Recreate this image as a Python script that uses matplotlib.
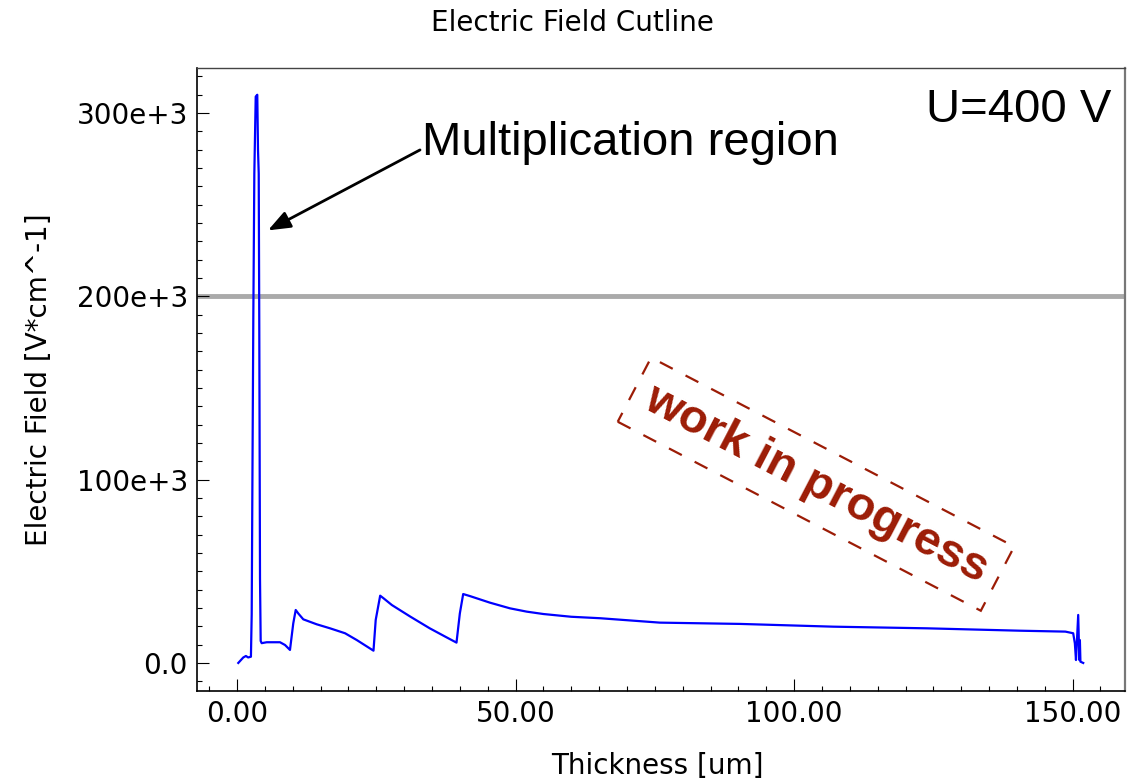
import matplotlib
matplotlib.use('Agg')
import matplotlib.pyplot as plt
from matplotlib.ticker import MultipleLocator, FuncFormatter

# cutline data (thickness in um, field in kV/cm)
thickness = [0.23, 1.13, 1.6, 2.0, 2.5, 2.64, 2.75, 2.93, 3.11, 3.36, 3.64, 3.77, 3.9, 4.0,
             4.13, 4.25, 4.43, 5.33, 7.72, 8.62, 9.51, 10.1, 10.54, 11.0, 11.9, 14.3, 16.7,
             19.4, 21.5, 24.5, 24.9, 25.7, 26.3, 27.8, 31.1, 34.6, 37.6, 39.4, 40.0, 40.6,
             41.8, 45.4, 49.0, 52.0, 55.0, 60.0, 65.2, 75.9, 90.3, 107.0, 123.8, 140.5,
             148.7, 150.1, 150.4, 150.6, 151.0, 151.2, 151.3, 151.4, 151.9]
field_kv = [0.0, 3.0, 3.8, 3.0, 3.4, 26.6, 90.0, 189.0, 267.0, 309.0, 310.0, 280.0, 267.0, 183.0,
            46.0, 12.0, 10.8, 11.3, 11.3, 9.8, 7.1, 21.6, 28.9, 27.0, 23.8, 21.1, 18.9,
            16.2, 12.5, 6.7, 23.5, 36.7, 35.3, 31.6, 25.3, 18.9, 14.0, 11.1, 27.0, 37.6,
            36.5, 32.9, 29.8, 28.0, 26.7, 25.2, 24.4, 22.0, 21.3, 19.8, 18.9, 17.6,
            17.1, 16.2, 10.7, 1.6, 26.2, 1.6, 12.5, 0.7, 0.0]
field = [v * 1e3 for v in field_kv]

threshold = 200e3
peak_tip = (5.56, 236e3)
peak_text = (33.2, 277e3)

fig = plt.figure(figsize=(11.4, 7.82), dpi=100)
ax = fig.add_axes([197/1140, 1 - 691/782, 928/1140, 623/782])

ax.axhline(threshold, color='#aaaaaa', lw=3.5, zorder=1)
ax.plot(thickness, field, color='#0000ff', lw=1.6, zorder=2)

ax.set_xlim(-7.18, 159.4)
ax.set_ylim(-15.3e3, 324.6e3)

ax.xaxis.set_major_locator(MultipleLocator(50))
ax.xaxis.set_minor_locator(MultipleLocator(5))
ax.yaxis.set_major_locator(MultipleLocator(100e3))
ax.yaxis.set_minor_locator(MultipleLocator(10e3))
ax.xaxis.set_major_formatter(FuncFormatter(lambda v, p: f'{v:.2f}'))
ax.yaxis.set_major_formatter(FuncFormatter(lambda v, p: '0.0' if v == 0 else f'{v/1e3:.0f}e+3'))
ax.tick_params(which='both', direction='in', top=False, right=False, labelsize=20, width=0.8)
ax.tick_params(which='major', length=8.4, pad=6.5)
ax.tick_params(which='minor', length=3.8)

ax.spines['left'].set_linewidth(1.2)
ax.spines['bottom'].set_linewidth(1.2)
ax.spines['top'].set_linewidth(1.0)
ax.spines['top'].set_color('#444444')
ax.spines['right'].set_linewidth(1.6)
ax.spines['right'].set_color('#777777')

ax.set_xlabel('Thickness [um]', fontsize=20, va='top')
ax.xaxis.set_label_coords(0.496, -0.098)
ax.set_ylabel('Electric Field [V*cm^-1]', fontsize=20)
ax.yaxis.set_label_coords(-0.155, 0.5)
fig.suptitle('Electric Field Cutline', fontsize=20, x=0.502, y=1 - 23/782, va='center')

ax.annotate('', xy=peak_tip, xytext=(32.85, 279.9e3),
            arrowprops=dict(arrowstyle='-|>,head_length=0.9,head_width=0.35',
                            mutation_scale=15, color='black', lw=2,
                            shrinkA=0, shrinkB=0))
ax.text(peak_text[0], peak_text[1], 'Multiplication region', family='Liberation Sans',
        fontsize=34, ha='left', va='baseline')
ax.text(0.985, 0.913, 'U=400 V', family='Liberation Sans', fontsize=34,
        ha='right', va='baseline', transform=ax.transAxes)

ax.text(0.667, 0.332, 'work in progress', family='Liberation Sans', fontweight='bold',
        fontsize=34, color='#9c1c06', rotation=-27.5, rotation_mode='anchor',
        ha='center', va='center', transform=ax.transAxes,
        bbox=dict(boxstyle='square,pad=0.3', fc='none', ec='#9c1c06', lw=1.6,
                  linestyle=(0, (6.5, 6.5))))

fig.savefig('out.png', dpi=100)
